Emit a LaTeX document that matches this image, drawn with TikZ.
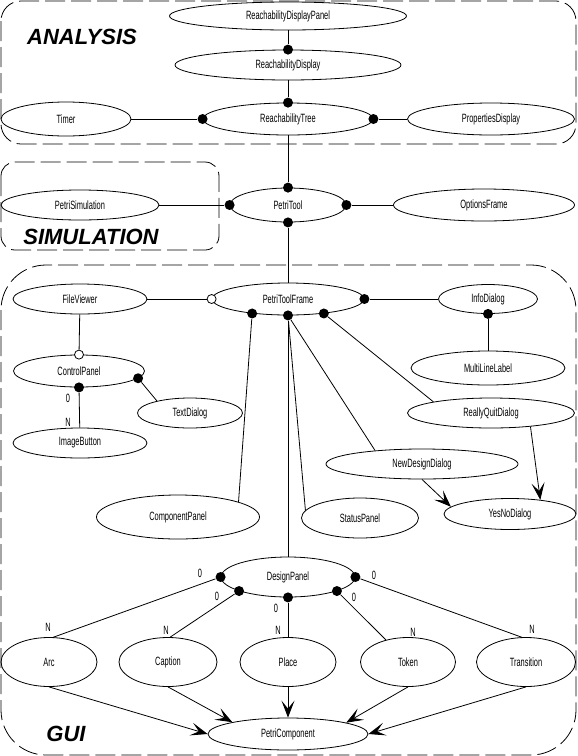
\documentclass[tikz,border=0pt]{standalone}
\usepackage{fontspec}
\setmainfont[FakeStretch=0.62]{Liberation Sans}
\newfontfamily\areafont{Liberation Sans}
\usepackage{tikz}
\usetikzlibrary{positioning}
\usetikzlibrary{shapes.geometric}
\usetikzlibrary{arrows.meta}

\begin{document}
\begin{tikzpicture}
        [x=1pt,y=-1pt,line width=0.8pt,
         cls/.style={ellipse,draw,inner sep=0pt,font=\fontsize{12}{13}\selectfont},
         dot/.style={circle,fill,inner sep=0pt,minimum size=10pt},
         odot/.style={circle,draw,fill=white,inner sep=0pt,minimum size=9pt},
         card/.style={inner sep=0pt,font=\fontsize{12}{13}\selectfont},
         area/.style={draw,dash pattern=on 20pt off 6pt,rounded corners=#1},
         areaname/.style={inner sep=0pt,font=\areafont\bfseries\itshape\fontsize{22}{24}\selectfont},
         isa/.style={-{Stealth[length=17pt,width=13pt,inset=8pt]}}]
      \fill[white] (0,0) rectangle (578,756);
      \useasboundingbox (0,0) rectangle (578,756);
      \draw[area=20pt] (1,1) rectangle (576,144);
      \draw[area=14pt] (1,162) rectangle (219,250);
      \draw[area=45pt] (1,265) rectangle (576,755);
      \node[areaname] (analysis) at (82,37) {ANALYSIS};
      \node[areaname] (simulation) at (91,237) {SIMULATION};
      \node[areaname] (gui) at (66,734) {GUI};

      \node[cls,minimum width=237pt,minimum height=28pt] (RDP) at (288,16) {ReachabilityDisplayPanel};
      \node[cls,minimum width=226pt,minimum height=30pt] (RD) at (288,65) {ReachabilityDisplay};
      \node[cls,minimum width=170pt,minimum height=32pt] (RT) at (288,119) {ReachabilityTree};
      \node[cls,minimum width=130pt,minimum height=34pt] (Timer) at (66,119) {Timer};
      \node[cls,minimum width=167pt,minimum height=32pt] (PD) at (491,119) {PropertiesDisplay};
      \node[cls,minimum width=116pt,minimum height=34pt] (PT) at (288,205) {PetriTool};
      \node[cls,minimum width=158pt,minimum height=30pt] (PS) at (80,205) {PetriSimulation};
      \node[cls,minimum width=181pt,minimum height=32pt] (OF) at (484,205) {OptionsFrame};
      \node[cls,minimum width=152pt,minimum height=32pt] (PTF) at (288,299) {PetriToolFrame};
      \node[cls,minimum width=134pt,minimum height=30pt] (FV) at (80,299) {FileViewer};
      \node[cls,minimum width=131pt,minimum height=32pt] (CP) at (79,371) {ControlPanel};
      \node[cls,minimum width=105pt,minimum height=30pt] (TD) at (190,413) {TextDialog};
      \node[cls,minimum width=134pt,minimum height=30pt] (IB) at (80,443) {ImageButton};
      \node[cls,minimum width=99pt,minimum height=29pt] (ID) at (488,299) {InfoDialog};
      \node[cls,minimum width=154pt,minimum height=34pt] (MLL) at (488,368) {MultiLineLabel};
      \node[cls,minimum width=167pt,minimum height=30pt] (RQD) at (491,413) {ReallyQuitDialog};
      \node[cls,minimum width=192pt,minimum height=30pt] (NDD) at (422,464) {NewDesignDialog};
      \node[cls,minimum width=163pt,minimum height=44pt] (CompP) at (178,517) {ComponentPanel};
      \node[cls,minimum width=117pt,minimum height=40pt] (SP) at (360,518) {StatusPanel};
      \node[cls,minimum width=132pt,minimum height=31pt] (YND) at (510,514) {YesNoDialog};
      \node[cls,minimum width=134pt,minimum height=40pt] (DP) at (288,577) {DesignPanel};
      \node[cls,minimum width=96pt,minimum height=49pt] (Arc) at (49,662) {Arc};
      \node[cls,minimum width=98pt,minimum height=49pt] (Cap) at (168,662) {Caption};
      \node[cls,minimum width=96pt,minimum height=49pt] (Place) at (288,662) {Place};
      \node[cls,minimum width=95pt,minimum height=49pt] (Token) at (408,662) {Token};
      \node[cls,minimum width=99pt,minimum height=49pt] (Trans) at (526,662) {Transition};
      \node[cls,minimum width=160pt,minimum height=32pt] (PC) at (288,734) {PetriComponent};

      \node[dot] (rdN) at (RD.north) {};
      \node[dot] (rtN) at (RT.north) {};
      \node[dot] (rtW) at (RT.west) {};
      \node[dot] (rtE) at (RT.east) {};
      \node[dot] (ptN) at (PT.north) {};
      \node[dot] (ptS) at (PT.south) {};
      \node[dot] (ptW) at (PT.west) {};
      \node[dot] (ptE) at (PT.east) {};
      \node[odot] (ptfW) at (PTF.west) {};
      \node[dot] (ptfE) at (PTF.east) {};
      \node[dot] (ptfSW) at (PTF.202) {};
      \node[dot] (ptfS) at (PTF.south) {};
      \node[dot] (ptfSE) at (PTF.338) {};
      \node[dot] (idS) at (ID.south) {};
      \node[odot] (cpN) at (CP.north) {};
      \node[dot] (cpS) at (CP.south) {};
      \node[dot] (cpE) at (CP.-7) {};
      \node[dot] (dpW) at (DP.west) {};
      \node[dot] (dpSW) at (DP.196) {};
      \node[dot] (dpS) at (DP.south) {};
      \node[dot] (dpSE) at (DP.344) {};
      \node[dot] (dpE) at (DP.east) {};

      \path (RDP) edge (rdN);
      \path (RD) edge (rtN);
      \path (Timer) edge (rtW);
      \path (rtE) edge (PD);
      \path (RT) edge (ptN);
      \path (PS) edge (ptW);
      \path (ptE) edge (OF);
      \path (ptS) edge (PTF);
      \path (FV) edge (ptfW);
      \path (ptfE) edge (ID);
      \path (idS) edge (MLL);
      \path (FV) edge (cpN);
      \path (cpS) edge (IB);
      \path (cpE) edge (TD.160);
      \path (ptfSW) edge (CompP.14);
      \path (ptfS) edge (DP);
      \path (ptfS) edge (SP.172);
      \path (ptfS) edge (NDD.164);
      \path (ptfSE) edge (RQD.169);
      \path [isa] (RQD.-19) edge (YND.25);
      \path [isa] (NDD.south) edge (YND.173);

      \node[card] (c1) at (68,398) {0};
      \node[card] (c2) at (68,422) {N};

      \path (dpW) edge (Arc.80);
      \path (dpSW) edge (Cap.85);
      \path (dpS) edge (Place);
      \path (dpSE) edge (Token);
      \path (dpE) edge (Trans.100);
      \node[card] (c3) at (200,573) {0};
      \node[card] (c4) at (217,596) {0};
      \node[card] (c5) at (276,608) {0};
      \node[card] (c6) at (354,597) {0};
      \node[card] (c7) at (374,575) {0};
      \node[card] (c8) at (48,627) {N};
      \node[card] (c9) at (166,630) {N};
      \node[card] (c10) at (278,630) {N};
      \node[card] (c11) at (413,632) {N};
      \node[card] (c12) at (532,629) {N};

      \path [isa] (Arc.south) edge (PC.west);
      \path [isa] (Cap.south) edge (PC.168);
      \path [isa] (Place) edge (PC);
      \path [isa] (Token.south) edge (PC.11);
      \path [isa] (Trans.south) edge (PC.east);
      \end{tikzpicture}
\end{document}
